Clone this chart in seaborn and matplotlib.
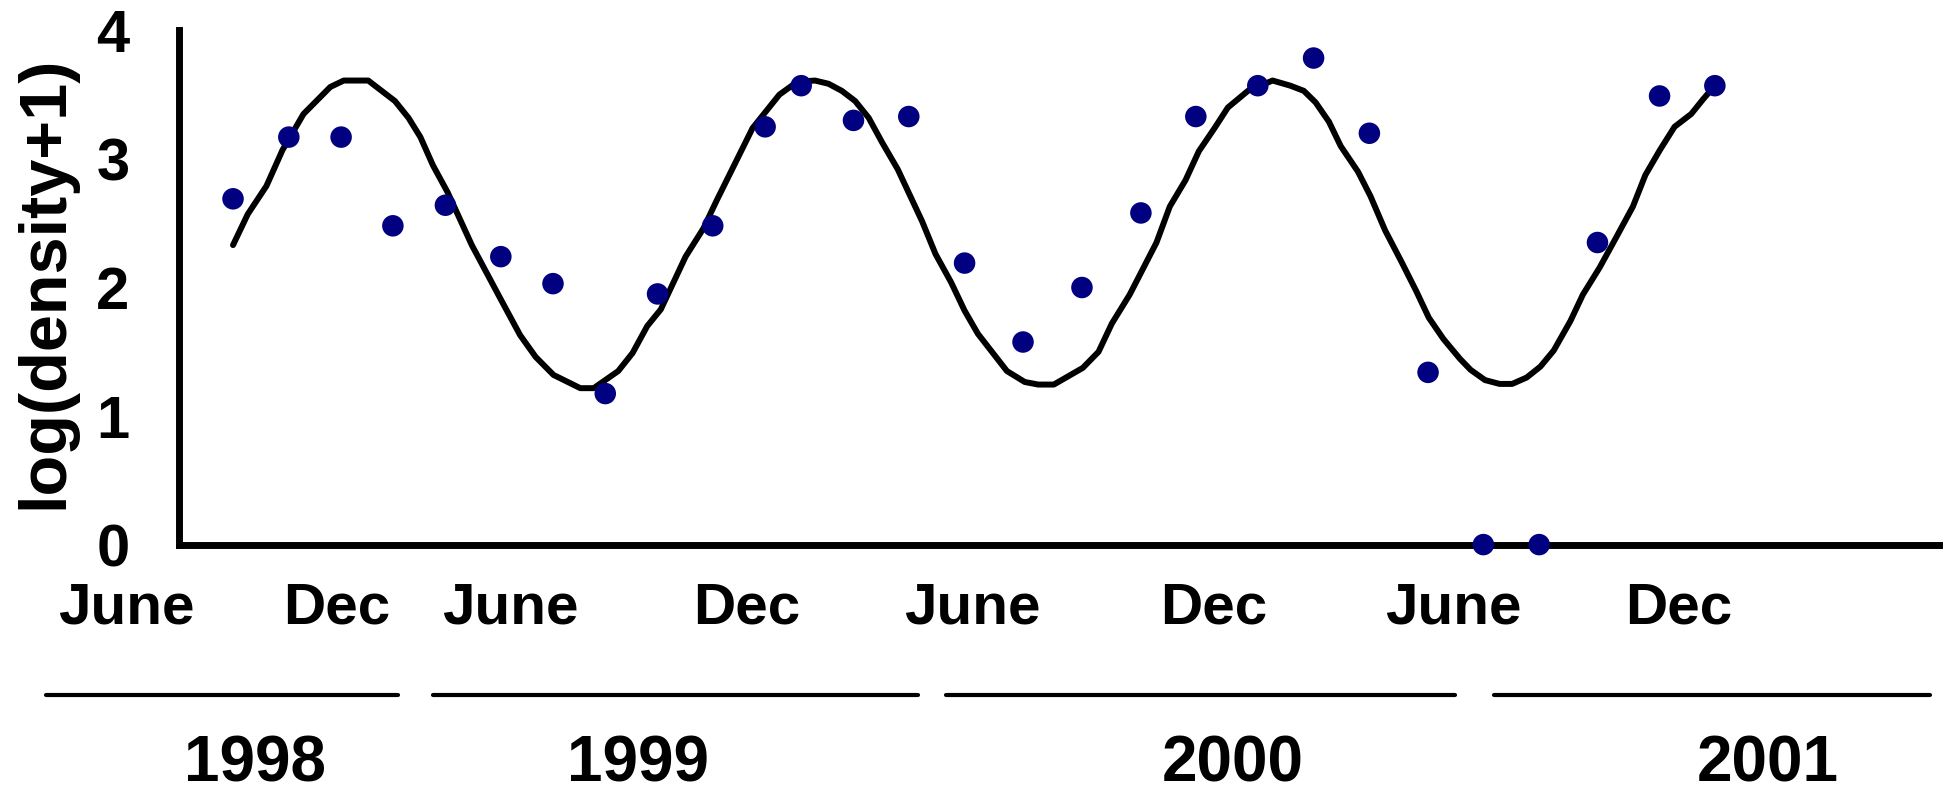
import numpy as np
import pandas as pd
import seaborn as sns
import matplotlib.pyplot as plt
from matplotlib.lines import Line2D

# sampling dates, in axis units (one tick = one unit), and observed log densities
sample_t = [0.426, 0.870, 1.286, 1.698, 2.116, 2.557, 2.972, 3.388, 3.804, 4.243,
            4.660, 4.947, 5.363, 5.803, 6.247, 6.712, 7.181, 7.650, 8.087, 8.580,
            9.024, 9.468, 9.935, 10.375, 10.819, 11.283, 11.777, 12.217]
sample_logd = [2.69, 3.17, 3.17, 2.48, 2.64, 2.24, 2.03, 1.175, 1.95, 2.48,
               3.25, 3.57, 3.30, 3.33, 2.19, 1.576, 2.00, 2.58, 3.33, 3.57,
               3.785, 3.20, 1.34, 0.0, 0.0, 2.35, 3.49, 3.57]

# fitted seasonal curve
fit_t = [0.426, 0.543, 0.692, 0.820, 0.987, 1.200, 1.307, 1.502, 1.715, 1.822,
         1.917, 2.017, 2.134, 2.326, 2.550, 2.710, 2.834, 2.976, 3.189, 3.296,
         3.491, 3.605, 3.722, 3.830, 4.027, 4.169, 4.276, 4.418, 4.560, 4.773,
         4.915, 5.057, 5.164, 5.270, 5.377, 5.484, 5.590, 5.715, 5.909, 6.016,
         6.140, 6.247, 6.353, 6.584, 6.726, 6.833, 6.957, 7.188, 7.313, 7.419,
         7.561, 7.774, 7.880, 8.005, 8.111, 8.236, 8.342, 8.502, 8.698, 8.839,
         8.946, 9.040, 9.146, 9.240, 9.378, 9.477, 9.593, 9.726, 9.842, 9.941,
         10.057, 10.189, 10.273, 10.388, 10.504, 10.604, 10.720, 10.829, 10.935, 11.068,
         11.167, 11.300, 11.432, 11.565, 11.664, 11.780, 11.896, 12.029, 12.128, 12.217]
fit_logd = [2.33, 2.57, 2.79, 3.07, 3.35, 3.56, 3.61, 3.61, 3.45, 3.32,
            3.17, 2.95, 2.74, 2.33, 1.92, 1.63, 1.46, 1.32, 1.217, 1.217,
            1.35, 1.49, 1.70, 1.83, 2.24, 2.46, 2.68, 2.96, 3.24, 3.50,
            3.60, 3.61, 3.585, 3.53, 3.45, 3.32, 3.13, 2.92, 2.515, 2.26,
            2.04, 1.82, 1.64, 1.35, 1.265, 1.245, 1.245, 1.375, 1.50, 1.72,
            1.945, 2.35, 2.63, 2.835, 3.06, 3.24, 3.40, 3.53, 3.61, 3.57,
            3.53, 3.44, 3.29, 3.10, 2.90, 2.71, 2.445, 2.195, 1.97, 1.765,
            1.60, 1.445, 1.36, 1.28, 1.25, 1.25, 1.30, 1.385, 1.51, 1.74,
            1.945, 2.155, 2.39, 2.63, 2.875, 3.07, 3.25, 3.35, 3.47, 3.57]

month_labels = ['June', 'Dec', 'June', 'Dec', 'June', 'Dec', 'June', 'Dec']
year_labels = ['1998', '1999', '2000', '2001']
y_ticks = [0, 1, 2, 3, 4]

sns.set_style('white')
plt.rcParams['font.family'] = ['Liberation Sans', 'DejaVu Sans']
plt.rcParams['font.weight'] = 'bold'
for key in ['text.color', 'axes.labelcolor', 'xtick.color', 'ytick.color', 'axes.edgecolor']:
    plt.rcParams[key] = 'black'

W, H = 1953, 794
fig = plt.figure(figsize=(W / 100, H / 100), dpi=100)
ax = fig.add_axes([0.0919, 0.3141, 0.9009, 0.6476])

obs = pd.DataFrame({'t': sample_t, 'logd': sample_logd})
fit = pd.DataFrame({'t': fit_t, 'logd': fit_logd})

sns.lineplot(data=fit, x='t', y='logd', sort=False, estimator=None,
             color='black', linewidth=4.3, ax=ax, zorder=2)
sns.scatterplot(data=obs, x='t', y='logd', color='#000080', s=240,
                edgecolor='none', ax=ax, zorder=5, clip_on=False)

ax.set_xlim(0, 14)
ax.set_ylim(0, 4)
ax.set_xticks(range(15))
ax.set_xticklabels([])
ax.set_yticks(y_ticks)
ax.set_yticklabels([str(v) for v in y_ticks], fontsize=43, fontweight='bold')
ax.tick_params(axis='x', direction='in', length=11, width=3.5, color='black')
ax.tick_params(axis='y', direction='in', length=16, width=3.5, color='black', pad=36)
ax.set_xlabel('')
ax.set_ylabel('log(density+1)', fontsize=48, fontweight='bold')
ax.yaxis.set_label_coords(-0.0585, 0.51)

for side in ['top', 'right']:
    ax.spines[side].set_visible(False)
for side in ['left', 'bottom']:
    ax.spines[side].set_linewidth(5)
    ax.spines[side].set_color('black')

# month / year annotation under the axis (pixel layout)
month_x = [126, 337, 510, 747, 972, 1214, 1453, 1679]
for lab, px in zip(month_labels, month_x):
    fig.text(px / W, 1 - 609 / H, lab, ha='center', va='center',
             fontsize=42, fontweight='bold')

year_x = [255, 638, 1233, 1768]
for lab, px in zip(year_labels, year_x):
    fig.text(px / W, 1 - 764 / H, lab, ha='center', va='center',
             fontsize=46, fontweight='bold')

year_spans = [(46, 398), (433, 918), (946, 1455), (1494, 1930)]
for x0, x1 in year_spans:
    fig.add_artist(Line2D([x0 / W, x1 / W], [1 - 695 / H, 1 - 695 / H],
                          transform=fig.transFigure, color='black', linewidth=3))

plt.savefig('out.png', dpi=100)
